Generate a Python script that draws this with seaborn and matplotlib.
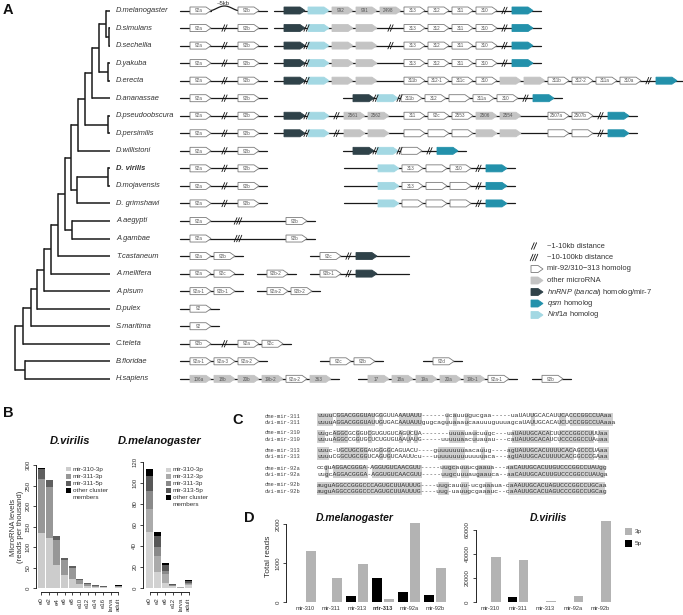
import numpy as np
import pandas as pd
import seaborn as sns
import matplotlib.pyplot as plt
from matplotlib.patches import Polygon, Rectangle

sns.set_theme(style="ticks")
plt.rcParams['font.family'] = ['Liberation Sans', 'DejaVu Sans']
plt.rcParams['mathtext.fontset'] = 'custom'
plt.rcParams['mathtext.rm'] = 'Liberation Sans'
plt.rcParams['mathtext.it'] = 'Liberation Sans:italic'
plt.rcParams['mathtext.bf'] = 'Liberation Sans:bold'

# ---------------- data: panel A ----------------
species = ['D.melanogaster', 'D.simulans', 'D.sechellia', 'D.yakuba', 'D.erecta',
           'D.ananassae', 'D.pseudoobscura', 'D.persimilis', 'D.willistoni',
           'D. virilis', 'D.mojavensis', 'D. grimshawi', 'A.aegypti', 'A.gambae',
           'T.castaneum', 'A.mellifera', 'A.pisum', 'D.pulex', 'S.maritima',
           'C.teleta', 'B.floridae', 'H.sapiens']

# clades: (node depth, children)
sim_sec = (109, ['D.simulans', 'D.sechellia'])
mel_sim = (106, ['D.melanogaster', sim_sec])
yak_ere = (108, ['D.yakuba', 'D.erecta'])
mel_grp = (99, [mel_sim, yak_ere])
mel_ana = (92, [mel_grp, 'D.ananassae'])
obscura = (108, ['D.pseudoobscura', 'D.persimilis'])
sophoph = (85, [mel_ana, obscura])
sopho_w = (78, [sophoph, 'D.willistoni'])
vir_moj = (108, ['D. virilis', 'D.mojavensis'])
vir_grp = (77, [vir_moj, 'D. grimshawi'])
dros = (71, [sopho_w, vir_grp])
mosq = (72, ['A.aegypti', 'A.gambae'])
diptera = (65, [dros, mosq])
holo1 = (58, [diptera, 'T.castaneum'])
holo2 = (51, [holo1, 'A.mellifera'])
insecta = (44, [holo2, 'A.pisum'])
pancrust = (37, [insecta, 'D.pulex'])
arthro = (31, [pancrust, 'S.maritima'])
protost = (23, [arthro, 'C.teleta'])
deutero = (25, ['B.floridae', 'H.sapiens'])
tree = (15, [protost, deutero])

# cluster tokens: H homolog, O other miRNA, B bancal/mir-7, N Nnf1a, Q qsm,
# - spacer, / spacer with break, | break, # long break, ~ 5kb arc
dros_92 = 'H:92a - | - H:92b'
clusters = {
    'D.melanogaster': ['H:92a ~ H:92b',
                       'B N O:992 O:991 O:2498 H:313 H:312 H:311 H:310 / Q'],
    'D.simulans': [dros_92, 'B | N O O - | - H:313 H:312 H:311 H:310 / Q'],
    'D.sechellia': [dros_92, 'B | N O O - | - H:313 H:312 H:311 H:310 / Q'],
    'D.yakuba': [dros_92, 'B | N O O - - H:313 H:312 H:311 H:310 / Q'],
    'D.erecta': [dros_92, 'B | N O O - - H:311b H:312-1 H:311c H:310 O O '
                          'H:311b H:312-2 H:311a H:310a / Q - -'],
    'D.ananassae': [dros_92, 'B | N | H:311b H:312 H H:311a H:310 / Q'],
    'D.pseudoobscura': [dros_92, 'B | N / O:2561 O:2562 - H:311 H:92c H:2553 '
                                 'O:2506 O:2554 - - H:2507a H:2507b / Q'],
    'D.persimilis': [dros_92, 'B | N / O O - H H H O O - - H H / Q'],
    'D.willistoni': [dros_92, 'B | N | H / Q'],
    'D. virilis': [dros_92, '- - N H:313 H H:310 / Q'],
    'D.mojavensis': [dros_92, '- - N H:313 H H / Q'],
    'D. grimshawi': [dros_92, '- - N H H H / Q'],
    'A.aegypti': ['H:92a - - # - - - - H:92b'],
    'A.gambae': ['H:92a - - # - - - - H:92b'],
    'T.castaneum': ['H:92a H:92b', 'H:92c / B - -'],
    'A.mellifera': ['H:92a H:92c', 'H:92b-2', 'H:92b-1 / B - -'],
    'A.pisum': ['H:92a-1 H:92b-1', 'H:92a-2 H:92b-2'],
    'D.pulex': ['H:92'],
    'S.maritima': ['H:92'],
    'C.teleta': ['H:92b - | - H:92a H:92c'],
    'B.floridae': ['H:92a-1 H:92a-3 H:92a-2', 'H:92c H:92b', 'H:92d'],
    'H.sapiens': ['O:106a O:18b O:20b O:19b-2 H:92a-2 O:363',
                  'O:17 O:18a O:19a O:20a O:19b-1 H:92a-1', 'H:92b'],
}
# layout: where each block starts
cluster_x = {s: [190, 284] for s in species[:9]}
cluster_x.update({'D.ananassae': [190, 353], 'D.willistoni': [190, 353],
                  'D. virilis': [190, 354], 'D.mojavensis': [190, 354],
                  'D. grimshawi': [190, 354], 'A.aegypti': [190], 'A.gambae': [190],
                  'T.castaneum': [190, 320], 'A.mellifera': [190, 267, 320],
                  'A.pisum': [190, 267], 'D.pulex': [190], 'S.maritima': [190],
                  'C.teleta': [190], 'B.floridae': [190, 330, 433],
                  'H.sapiens': [190, 368, 542]})

legend_a = ['~1-10kb distance', '~10-100kb distance', 'mir-92/310\u2212313 homolog',
            'other microRNA', r'$\it{hnRNP}$ ($\it{bancal}$) homolog/mir-7',
            r'$\it{qsm}$ homolog', r'$\it{Nnf1a}$ homolog']

# ---------------- data: panel B ----------------
vir_stages = ['e0', 'e2', 'e4', 'e6', 'e8', 'e10', 'e12', 'e14', 'e16', 'larva', 'adult']
vir_310_3p = [134, 122, 57, 32, 22, 10, 6, 3, 2, 0.5, 3]
vir_311_3p = [132, 125, 61, 37, 27, 10, 4.5, 2.5, 1.5, 0.3, 2]
vir_311_5p = [24, 16, 8, 4, 4, 2, 1, 0.7, 0.7, 0.1, 1]
vir_other = [3, 1.5, 1, 1, 1, 0.5, 0.5, 0.3, 0.3, 0.1, 0.5]

mel_stages = ['e0', 'e2', 'e6', 'e12', 'larva', 'adult']
mel_310_3p = [53.5, 15, 5, 1.5, 0.4, 2.5]
mel_312_3p = [21.5, 15.5, 8, 0.8, 0.3, 1]
mel_311_3p = [17, 8.5, 3, 0.7, 0.2, 1]
mel_313_5p = [15, 10.5, 6, 0.7, 0.2, 2]
mel_other = [6.5, 4, 1.5, 0.4, 0.1, 1]

# ---------------- data: panel C ----------------
mir_names = ['311', '310', '313', '92a', '92b']
dme_seqs = ['uuuuCGGACGGGUAUGGGUUAAAUAUU------ucauuugucgaa-----uaUAUUGCACAUUCACCCGGCCUAaa',
            'uugcAGGCGCGGUCGUGUGUCAGUCUA-------uuuauaucuugc---uaUAUUGCACACUUCCCGGCCUUUaa',
            'uuuc-UGCUGCGGAUGGGGCAGUACU----guuuuuuuaacauug----agUAUUGCACUUUUCACAGCCCUAaa',
            'ccguAGGACGGGA-AGGUGUCAACGUU-----uugcauuucgaaua---aaCAUUGCACUUGUCCCGGCCUAUgg',
            'auguAGGCCGGGCCCAGUGCUUAUUUG----uugcauuu-ucgaaaua-caAAUUGCACUAGUCCCGGCCUGCaa']
dvi_seqs = ['uuuuAGGACGGGUAUUGUGACAAUAUUgugcaguuaaaucaauuuguuuagcaUAUUGCACAUCUCCCGGCCUAaaa',
            'uuuuAGGCCGGUGCUCUGUGUAAUAUG-----uuuuuaacuuauau---caUAUUGCACAUCUCCCGGCCUAuaa',
            'uuuuCGGCUGCGGUCAGUGUCAAUUcu---uuuuuuuuuuuuuaca---agUAUUGCACUUUUCACGGCCCGAaa',
            'uugcAGGACGGGA-AGGUGUCAACGUU-----uugcuuuaugaauca--aaCAUUGCACUUGUCCCGGCCUAUga',
            'auguAGGCCGGGCCCAGUGCUUAUUUG----uug-uauugcgaaauc--caAAUUGCACUAGUCCCGGCCUGCag']

# ---------------- data: panel D ----------------
d_mel_groups = ['mir-310', 'mir-311', 'mir-313', 'mir-313', 'mir-92a', 'mir-92b']
d_mel_5p = [5, 12, 154, 615, 265, 180]
d_mel_3p = [1310, 615, 975, 77, 2030, 870]
d_vir_groups = ['mir-310', 'mir-311', 'mir-313', 'mir-92a', 'mir-92b']
d_vir_5p = [300, 3900, 100, 150, 300]
d_vir_3p = [37250, 35000, 900, 5250, 67750]

# ---------------- figure ----------------
W, H = 683, 615
fig = plt.figure(figsize=(6.83, 6.15), dpi=100)
ov = fig.add_axes([0, 0, 1, 1])
ov.set_xlim(0, W)
ov.set_ylim(H, 0)
ov.axis('off')


def px_axes(x0, y0, x1, y1):
    a = fig.add_axes([x0 / W, 1 - y1 / H, (x1 - x0) / W, (y1 - y0) / H])
    a.set_facecolor('none')
    return a


for lab, (x, y) in zip('ABCD', [(3, 10), (3, 413), (232, 420), (244, 518)]):
    ov.text(x, y, lab, fontsize=10.5, fontweight='bold', va='center', color='#111')

# ---- A: tree ----
row_y = {s: 10.5 + i * 17.54 for i, s in enumerate(species)}


def draw_clade(node):
    if isinstance(node, str):
        return 110, row_y[node]
    depth, kids = node
    pts = [draw_clade(k) for k in kids]
    ys = [p[1] for p in pts]
    for kx, ky in pts:
        ov.plot([depth, kx], [ky, ky], color='#1a1a1a', lw=1.1, solid_capstyle='butt')
    ov.plot([depth, depth], [min(ys), max(ys)], color='#1a1a1a', lw=1.1,
            solid_capstyle='projecting')
    return depth, (min(ys) + max(ys)) / 2


draw_clade(tree)
for s in species:
    ov.text(116, row_y[s], s, fontsize=5.4, style='italic', va='center', color='#333',
            fontweight='bold' if 'virilis' in s else 'normal')

# ---- A: clusters ----
EL_STYLE = {'H': ('white', '#7a7a7a'), 'O': ('#c4c4c4', '#c4c4c4'),
            'B': ('#2f4249', '#2f4249'), 'N': ('#a3d8e3', '#a3d8e3'),
            'Q': ('#2391ab', '#2391ab')}
P, SP = 24, 12


def draw_element(x, y, kind, label, w=21):
    fc, ec = EL_STYLE[kind]
    pts = [(x, y - 3.5), (x + w - 5, y - 3.5), (x + w, y), (x + w - 5, y + 3.5), (x, y + 3.5)]
    ov.add_patch(Polygon(pts, closed=True, fc=fc, ec=ec, lw=0.6, zorder=3))
    if label:
        ov.text(x + 8.5, y + 0.2, label, fontsize=3.3, ha='center', va='center',
                color='#555', zorder=4)


def draw_break(x, y, n):
    for k in range(n):
        xx = x + (k - (n - 1) / 2) * 2.4
        ov.plot([xx - 1.4, xx + 1.4], [y + 3.3, y - 3.3], color='#111', lw=0.6, zorder=5)


def draw_block(x0, y, spec):
    x = x0
    gaps = []
    for tok in spec.split():
        kind, _, lab = tok.partition(':')
        if kind in EL_STYLE:
            draw_element(x, y, kind, lab)
            x += P
        elif kind == '-':
            x += SP
        elif kind == '/':
            draw_break(x + SP / 2 - 1.5, y, 2)
            x += SP
        elif kind == '|':
            draw_break(x - 1.5, y, 2)
        elif kind == '#':
            draw_break(x, y, 3)
        elif kind == '~':
            t = np.linspace(0, 1, 40)
            ov.plot(x - 3 + 27 * t, y - 4.5 * np.sin(np.pi * t) ** 1.5, color='#1a1a1a', lw=0.9)
            ov.text(x + 9, y - 6.8, '~5kb', fontsize=4.3, ha='center', va='center', color='#333')
            gaps.append((x - 3, x + 24))
            x += P
    start, end = x0 - 10, x + 5
    for a, b in gaps:
        ov.plot([start, a], [y, y], color='#1a1a1a', lw=0.9, zorder=1)
        start = b
    ov.plot([start, end], [y, y], color='#1a1a1a', lw=0.9, zorder=1)


for s in species:
    for spec, x0 in zip(clusters[s], cluster_x[s]):
        draw_block(x0, row_y[s], spec)

# ---- A: legend ----
leg_y = [246, 257.5, 269, 280.5, 292, 303.5, 315]
draw_break(534, leg_y[0], 2)
draw_break(534, leg_y[1], 3)
for kind, y in zip('HOBQN', leg_y[2:]):
    draw_element(531, y, kind, '', w=12)
for txt, y in zip(legend_a, leg_y):
    ov.text(547, y, txt, fontsize=5.4, va='center', color='#333')


# ---- B: stacked bars ----
def stacked(ax, stages, layers, colors):
    cum = np.cumsum(np.array(layers, dtype=float), axis=0)
    for k in range(len(layers) - 1, -1, -1):
        sns.barplot(x=stages, y=cum[k], order=stages, color=colors[k], width=0.9,
                    saturation=1, linewidth=0, errorbar=None, ax=ax)


def r_style(ax, n, ymax, yticks, left_off, bottom=True):
    sns.despine(ax=ax, bottom=not bottom)
    ax.set_xlim(-0.5, n - 0.5)
    ax.set_ylim(0, ymax)
    ax.set_xlabel('')
    ax.set_ylabel('')
    ax.spines['left'].set_bounds(yticks[0], yticks[-1])
    ax.spines['left'].set_position(('outward', left_off))
    ax.spines['left'].set_linewidth(0.7)
    ax.set_yticks(yticks)
    ax.set_yticklabels([str(v) for v in yticks], rotation=90, va='center', fontsize=4.4,
                       color='#333')
    ax.tick_params(axis='y', length=2.5, width=0.6, pad=1.5)
    if bottom:
        ax.spines['bottom'].set_bounds(0, n - 1)
        ax.spines['bottom'].set_position(('outward', 3))
        ax.spines['bottom'].set_linewidth(0.7)
        ax.tick_params(axis='x', length=2.5, width=0.6, pad=1.5, labelsize=4.4,
                       labelrotation=90, labelcolor='#333')
    else:
        ax.tick_params(axis='x', length=0, pad=3, labelsize=4.1, labelcolor='#333')


vir_colors = ['#cccccc', '#979797', '#5f5f5f', '#000000']
axv = px_axes(37.6, 465, 122.3, 588)
stacked(axv, vir_stages, [vir_310_3p, vir_311_3p, vir_311_5p, vir_other], vir_colors)
r_style(axv, len(vir_stages), 300, [0, 50, 100, 150, 200, 250, 300], 1)

mel_colors = ['#d2d2d2', '#ababab', '#8a8a8a', '#585858', '#000000']
axm = px_axes(145.6, 462, 192.4, 588)
stacked(axm, mel_stages, [mel_310_3p, mel_312_3p, mel_311_3p, mel_313_5p, mel_other],
        mel_colors)
r_style(axm, len(mel_stages), 120, [0, 20, 40, 60, 80, 100, 120], 2)

ov.text(70, 441, 'D.virilis', fontsize=8, fontweight='bold', style='italic', ha='center',
        va='center', color='#111')
ov.text(160, 441, 'D.melanogaster', fontsize=8, fontweight='bold', style='italic',
        ha='center', va='center', color='#111')
ov.text(17, 527, 'MicroRNA levels\n(reads per thousand)', rotation=90, fontsize=5.6,
        ha='center', va='center', linespacing=1.1, color='#333')


def small_legend(x, y0, labels, colors, step):
    y = y0
    for lab, c in zip(labels, colors):
        ov.add_patch(Rectangle((x, y - 2.4), 4.8, 4.8, fc=c, ec='none'))
        for line in lab.split('\n'):
            ov.text(x + 7, y, line, fontsize=4.6, va='center', color='#333')
            y += step


small_legend(66, 469, ['mir-310-3p', 'mir-311-3p', 'mir-311-5p', 'other cluster\nmembers'],
             vir_colors, 7.2)
small_legend(166, 470, ['mir-310-3p', 'mir-312-3p', 'mir-311-3p', 'mir-313-5p',
                        'other cluster\nmembers'], mel_colors, 6.8)

# ---- C: alignment ----
seq_x0, seq_x1 = 317, 617
ncol = max(len(s) for s in dme_seqs + dvi_seqs)
cw = (seq_x1 - seq_x0) / ncol
fs_seq = cw / (0.6 * 100 / 72)
c_rows = [416, 433, 450.5, 468, 485]
for name, a, b, ya in zip(mir_names, dme_seqs, dvi_seqs, c_rows):
    yb = ya + 6.4
    for j in range(min(len(a), len(b))):
        if a[j] != '-' and a[j].lower() == b[j].lower():
            ov.add_patch(Rectangle((seq_x0 + j * cw, ya - 3.3), cw, 12.9, fc='#cfcfcf',
                                   ec='none', zorder=1))
    for y, sp, seq in [(ya, 'dme', a), (yb, 'dvi', b)]:
        ov.text(265, y, f'{sp}-mir-{name}', family='Liberation Mono', fontsize=3.9,
                va='center', color='#444', zorder=2)
        ov.text(seq_x0, y, seq, family='Liberation Mono', fontsize=fs_seq, va='center',
                color='#333', zorder=2)


# ---- D: grouped bars ----
def grouped(ax, groups, p5, p3, ymax, yticks, left_off, width, gap):
    n = len(groups)
    df = pd.DataFrame({'pos': list(range(n)) * 2, 'arm': ['5p'] * n + ['3p'] * n,
                       'reads': p5 + p3})
    sns.barplot(data=df, x='pos', y='reads', hue='arm', hue_order=['5p', '3p'],
                palette={'5p': '#000000', '3p': '#b3b3b3'}, width=width, gap=gap,
                saturation=1, linewidth=0, errorbar=None, legend=False, ax=ax)
    r_style(ax, n, ymax, yticks, left_off, bottom=False)
    ax.set_xticks(range(n))
    ax.set_xticklabels(groups)


axdm = px_axes(292, 521.7, 448, 602)
grouped(axdm, d_mel_groups, d_mel_5p, d_mel_3p, 2060, [0, 1000, 2000], 4, 0.9, 0.12)
axdm.get_xticklabels()[3].set_fontweight('bold')

axdv = px_axes(477, 520.7, 614, 602)
grouped(axdv, d_vir_groups, d_vir_5p, d_vir_3p, 67750, [0, 20000, 40000, 60000], 1,
        0.8, 0.12)

ov.text(355, 518, 'D.melanogaster', fontsize=7.5, fontweight='bold', style='italic',
        ha='center', va='center', color='#111')
ov.text(548, 518, 'D.virilis', fontsize=7.5, fontweight='bold', style='italic',
        ha='center', va='center', color='#111')
ov.text(269, 556, 'Total reads', rotation=90, fontsize=6, ha='center', va='center',
        color='#333')
for lab, c, y in [('3p', '#b3b3b3', 531), ('5p', '#000000', 543)]:
    ov.add_patch(Rectangle((625, y - 3), 6.5, 6.5, fc=c, ec='none'))
    ov.text(635, y + 0.3, lab, fontsize=4.6, va='center', color='#333')

fig.savefig('out.png', dpi=100)
